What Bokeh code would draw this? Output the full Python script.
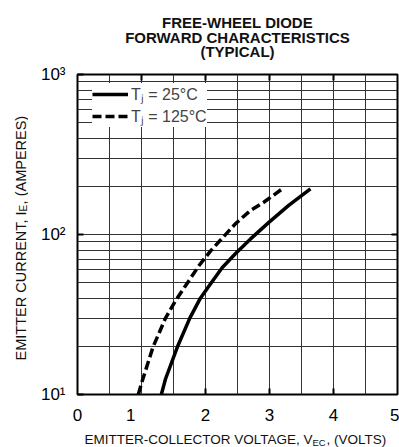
import math
from bokeh.plotting import figure
from bokeh.layouts import column, row
from bokeh.models import (Range1d, LinearAxis, LogAxis, FixedTicker, Legend, LegendItem, Label)
from bokeh.embed import file_html
from bokeh.resources import INLINE

# ---- data ----
v_25 = [1.31, 1.375, 1.56, 1.755, 1.92, 2.06, 2.26, 2.47, 2.70, 2.99, 3.30, 3.64]
i_25 = [10, 12.5, 19.8, 30, 40, 48, 62, 76, 93.5, 119, 152, 193]
v_125 = [0.95, 1.01, 1.18, 1.375, 1.53, 1.69, 1.90, 2.08, 2.47, 2.70, 2.91, 3.20]
i_125 = [10, 12.1, 19.8, 30, 38.5, 48, 64, 79, 117, 141, 159, 193]

x_ticks = [0, 1, 2, 3, 4, 5]
x_tick_labels = ["0", "1", "2", "3", "4", "5"]
y_ticks = [10, 100, 1000]
y_tick_labels = ["10\u00b9", "10\u00b2", "10\u00b3"]
x_grid = [0.5, 1, 1.5, 2, 2.5, 3, 3.5, 4, 4.5]
y_grid = [20, 30, 40, 50, 60, 70, 80, 90, 100, 200, 300, 400, 500, 600, 700, 800, 900]

title_lines = ["FREE-WHEEL DIODE", "FORWARD CHARACTERISTICS", "(TYPICAL)"]
legend_labels = ["T\u2c7c = 25\u00b0C", "T\u2c7c = 125\u00b0C"]
x_label_parts = ["EMITTER-COLLECTOR VOLTAGE, V", "EC", ", (VOLTS)"]
y_label_parts = ["EMITTER CURRENT, I", "E", ", (AMPERES)"]

FONT = "Liberation Sans"
PAGE_W = 399
TITLE_H, MAIN_H, XLAB_H, YLAB_W = 60, 367, 20, 28

# ---------------- main chart ----------------
p = figure(width=PAGE_W - YLAB_W, height=MAIN_H, x_range=Range1d(0, 5), y_range=Range1d(10, 1000),
           y_axis_type="log", x_axis_location=None, y_axis_location=None,
           output_backend="svg", toolbar_location=None,
           min_border_left=77 - YLAB_W, min_border_right=2, min_border_top=74 - TITLE_H,
           min_border_bottom=MAIN_H - (74 - TITLE_H) - 320)
p.outline_line_color = "black"
p.outline_line_width = 2
p.background_fill_color = "white"
p.border_fill_color = "white"

p.xgrid.ticker = FixedTicker(ticks=x_grid)
p.ygrid.ticker = FixedTicker(ticks=y_grid)
for g in (p.xgrid, p.ygrid):
    g.grid_line_color = "#333333"
    g.grid_line_width = 1

def style_axis(ax):
    ax.axis_line_color = None
    ax.major_tick_out = 0
    ax.major_tick_in = 6
    ax.major_tick_line_width = 2
    ax.minor_tick_in = 0
    ax.minor_tick_out = 0
    ax.major_label_text_font = FONT
    ax.major_label_text_color = "black"

def tick_only(ax):
    style_axis(ax)
    ax.major_label_standoff = 0
    ax.major_label_text_font_size = "1px"
    return ax

p.add_layout(tick_only(LinearAxis(ticker=FixedTicker(ticks=[2, 3, 4]),
                                  major_label_overrides={2: "", 3: "", 4: ""})), "below")

x_label_pos = [t - (0.17 if t == 1 else 0) for t in x_ticks]
bl = LinearAxis(ticker=FixedTicker(ticks=x_label_pos),
                major_label_overrides={pos: lab for pos, lab in zip(x_label_pos, x_tick_labels)})
style_axis(bl)
bl.major_tick_in = 0
bl.major_label_text_font_size = "17px"
bl.major_label_standoff = 14
p.add_layout(bl, "below")

p.add_layout(tick_only(LinearAxis(ticker=FixedTicker(ticks=[1, 2, 3, 4]),
                                  major_label_overrides={1: "", 2: "", 3: "", 4: ""})), "above")

la = LogAxis(ticker=FixedTicker(ticks=y_ticks),
             major_label_overrides={t: lab for t, lab in zip(y_ticks, y_tick_labels)})
style_axis(la)
la.major_label_text_font_size = "17px"
la.major_label_standoff = 12
p.add_layout(la, "left")

p.add_layout(tick_only(LogAxis(ticker=FixedTicker(ticks=[100]), major_label_overrides={100: ""})), "right")

r25 = p.line(v_25, i_25, line_color="black", line_width=3.5, line_join="round")
r125 = p.line(v_125, i_125, line_color="black", line_width=3.5, line_dash="9 4")

legend = Legend(items=[LegendItem(label=legend_labels[0], renderers=[r25]),
                       LegendItem(label=legend_labels[1], renderers=[r125])],
                location=(15, 267), padding=4, spacing=0, margin=0,
                glyph_width=36, glyph_height=16, label_height=16, label_standoff=3,
                background_fill_color="white", background_fill_alpha=1.0,
                border_line_color=None)
legend.label_text_font = FONT
legend.label_text_font_size = "16px"
p.add_layout(legend)

# ---------------- text panels ----------------
def text_panel(w, h):
    f = figure(width=w, height=h, x_range=Range1d(0, w), y_range=Range1d(h, 0),
               x_axis_location=None, y_axis_location=None, output_backend="svg",
               toolbar_location=None, min_border=0)
    f.outline_line_color = None
    f.grid.visible = False
    f.background_fill_color = "white"
    f.border_fill_color = "white"
    return f

def lab(f, x, y, text, size, **kw):
    f.add_layout(Label(x=x, y=y, text=text, text_font=FONT, text_color="#111111",
                       text_baseline="alphabetic", text_font_size=f"{size}px", **kw))

# title
tf = text_panel(PAGE_W, TITLE_H)
for line, base in zip(title_lines, [22, 36.5, 51]):
    lab(tf, 237, base, line, 15, text_align="center", text_font_style="bold")

# y label (rotated), anchored at the junctions of main text and subscript
yf = text_panel(YLAB_W, MAIN_H)
y_j1, y_j2 = 217 - TITLE_H, 209 - TITLE_H
lab(yf, 20, y_j1, y_label_parts[0], 14.5, angle=math.pi / 2, text_align="right")
lab(yf, 23, y_j1, y_label_parts[1], 10, angle=math.pi / 2, text_align="left")
lab(yf, 20, y_j2, y_label_parts[2], 14.5, angle=math.pi / 2, text_align="left")

# x label, anchored at the junctions of main text and subscript
xf = text_panel(PAGE_W, XLAB_H)
x_base = 439 - TITLE_H - MAIN_H
lab(xf, 312, x_base, x_label_parts[0], 13.5, text_align="right")
lab(xf, 312, x_base + 3, x_label_parts[1], 9.5, text_align="left")
lab(xf, 326, x_base, x_label_parts[2], 13.5, text_align="left")

layout = column(tf, row(yf, p, spacing=0), xf, spacing=0)
open("out.html", "w").write(file_html(layout, INLINE))
